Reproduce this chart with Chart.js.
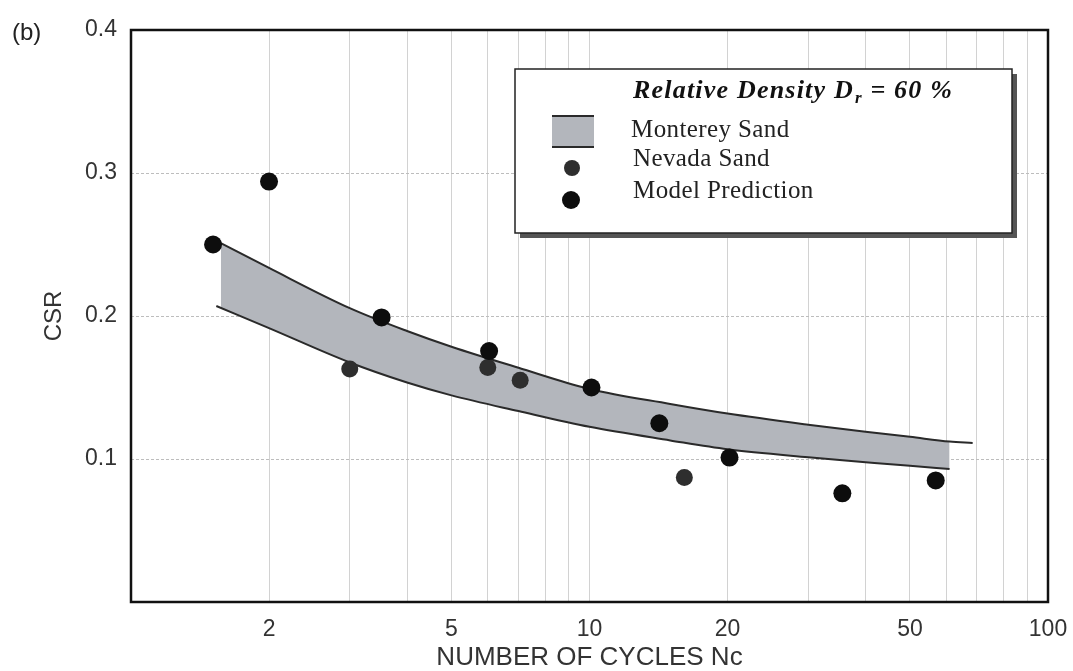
<!DOCTYPE html>
<html><head><meta charset="utf-8">
<script src="https://cdn.jsdelivr.net/npm/chart.js@4.4.1/dist/chart.umd.min.js"></script>
<style>html,body{margin:0;padding:0;background:#fff;}#wrap{position:relative;width:1073px;height:671px;}</style>
</head><body><div id="wrap"><canvas id="c" width="1073" height="671"></canvas></div>
<script>
// ---- data ----
const xTickValues = [1,2,3,4,5,6,7,8,9,10,20,30,40,50,60,70,80,90,100];
const xTickLabels = [2,5,10,20,50,100];
const yTickValues = [0,0.1,0.2,0.3,0.4];

const bandN     = [1.57,2,3,4,5,7,10,15,20,30,40,50,61];
const bandUpper = [0.251,0.2336,0.2055,0.1895,0.1785,0.1638,0.149,0.1385,0.1318,0.124,0.119,0.1155,0.1122];
const bandLower = [0.206,0.1915,0.1675,0.1535,0.1445,0.1335,0.1225,0.113,0.1068,0.1012,0.0978,0.0952,0.093];

const upperLineN   = [1.57,2,3,4,5,7,10,15,20,30,40,50,61,68.5];
const upperLineCSR = [0.251,0.2336,0.2055,0.1895,0.1785,0.1638,0.149,0.1385,0.1318,0.124,0.119,0.1155,0.1122,0.1112];
const lowerLineN   = [1.535,2,3,4,5,7,10,15,20,30,40,50,61];
const lowerLineCSR = [0.207,0.1915,0.1675,0.1535,0.1445,0.1335,0.1225,0.113,0.1068,0.1012,0.0978,0.0952,0.093];

const nevadaN   = [3.0,6.0,7.06,16.1];
const nevadaCSR = [0.163,0.164,0.155,0.087];
const modelN    = [1.51,2.0,3.52,6.04,10.1,14.2,20.2,35.6,56.9];
const modelCSR  = [0.250,0.294,0.199,0.1755,0.150,0.125,0.101,0.076,0.085];

const legendTitle = ['Relative Density D', 'r', ' = 60 %'];
const legendLabels = ['Monterey Sand','Nevada Sand','Model Prediction'];
const panelLabel = '(b)';
const xTitle = 'NUMBER OF CYCLES Nc';
const yTitle = 'CSR';

const pts = (xs, ys) => xs.map((x, i) => ({x, y: ys[i]}));

const BAND_FILL = '#b3b6bc';
const LINE_COL = '#2a2a2a';
const NEVADA_COL = '#2e2e2e';
const MODEL_COL = '#0d0d0d';

const frame = {
  id: 'frame',
  afterDraw(chart) {
    const {ctx, chartArea: a} = chart;
    ctx.save();
    ctx.strokeStyle = '#111';
    ctx.lineWidth = 2.5;
    ctx.strokeRect(a.left, a.top, a.right - a.left, a.bottom - a.top);
    ctx.fillStyle = '#222';
    ctx.font = '24px "Liberation Sans", Arial, sans-serif';
    ctx.textBaseline = 'alphabetic';
    ctx.textAlign = 'left';
    ctx.fillText(panelLabel, 12, 40);

    const L = 515, T = 69, R = 1012, B = 233;
    ctx.fillStyle = '#555';
    ctx.fillRect(L + 5, T + 5, R - L, B - T);
    ctx.fillStyle = '#fff';
    ctx.fillRect(L, T, R - L, B - T);
    ctx.strokeStyle = '#222';
    ctx.lineWidth = 1.5;
    ctx.strokeRect(L, T, R - L, B - T);

    const serif = '"Liberation Serif", "Times New Roman", serif';
    ctx.fillStyle = '#111';
    let x = 633;
    try { ctx.letterSpacing = '1.2px'; } catch (e) {}
    ctx.font = 'italic bold 26px ' + serif;
    ctx.fillText(legendTitle[0], x, 98);
    x += ctx.measureText(legendTitle[0]).width;
    ctx.font = 'italic bold 17px ' + serif;
    ctx.fillText(legendTitle[1], x + 1, 103);
    x += ctx.measureText(legendTitle[1]).width + 1;
    ctx.font = 'italic bold 26px ' + serif;
    ctx.fillText(legendTitle[2], x, 98);
    try { ctx.letterSpacing = '0.4px'; } catch (e) {}

    const ds = chart.data.datasets;
    ctx.font = '25px ' + serif;
    ctx.fillStyle = '#222';
    ctx.fillText(legendLabels[0], 631, 137);
    ctx.fillText(legendLabels[1], 633, 166);
    ctx.fillText(legendLabels[2], 633, 198);
    try { ctx.letterSpacing = '0px'; } catch (e) {}

    ctx.fillStyle = ds[1].backgroundColor;
    ctx.fillRect(552, 116, 42, 31);
    ctx.strokeStyle = LINE_COL;
    ctx.lineWidth = 2;
    ctx.beginPath();
    ctx.moveTo(552, 116); ctx.lineTo(594, 116);
    ctx.moveTo(552, 147); ctx.lineTo(594, 147);
    ctx.stroke();
    ctx.fillStyle = ds[4].backgroundColor;
    ctx.beginPath(); ctx.arc(572, 168, 8, 0, Math.PI * 2); ctx.fill();
    ctx.fillStyle = ds[5].backgroundColor;
    ctx.beginPath(); ctx.arc(571, 200, 9, 0, Math.PI * 2); ctx.fill();
    ctx.restore();
  }
};

new Chart(document.getElementById('c'), {
  type: 'line',
  data: {
    datasets: [
      { label: 'band-lower', data: pts(bandN, bandLower), borderWidth: 0, pointRadius: 0, fill: false,
        cubicInterpolationMode: 'monotone', order: 10, borderColor: 'rgba(0,0,0,0)' },
      { label: 'Monterey Sand', data: pts(bandN, bandUpper), borderWidth: 0, pointRadius: 0, fill: '-1',
        backgroundColor: BAND_FILL, borderColor: 'rgba(0,0,0,0)', cubicInterpolationMode: 'monotone', order: 9 },
      { label: 'upper', data: pts(upperLineN, upperLineCSR), borderColor: LINE_COL, borderWidth: 2, pointRadius: 0,
        fill: false, cubicInterpolationMode: 'monotone', order: 5 },
      { label: 'lower', data: pts(lowerLineN, lowerLineCSR), borderColor: LINE_COL, borderWidth: 2, pointRadius: 0,
        fill: false, cubicInterpolationMode: 'monotone', order: 5 },
      { label: 'Nevada Sand', data: pts(nevadaN, nevadaCSR), showLine: false, pointRadius: 8.5,
        backgroundColor: NEVADA_COL, borderColor: NEVADA_COL, pointBorderWidth: 0, order: 1 },
      { label: 'Model Prediction', data: pts(modelN, modelCSR), showLine: false, pointRadius: 9,
        backgroundColor: MODEL_COL, borderColor: MODEL_COL, pointBorderWidth: 0, order: 0 }
    ]
  },
  options: {
    responsive: false,
    animation: false,
    events: [],
    layout: { padding: { top: 30, right: 25, bottom: 0, left: 0 } },
    plugins: { legend: { display: false }, tooltip: { enabled: false }, title: { display: false } },
    scales: {
      x: {
        type: 'logarithmic', min: 1, max: 100,
        afterBuildTicks: s => { s.ticks = xTickValues.map(v => ({ value: v })); },
        afterFit: s => { s.height = 69; s.paddingRight = 0; s.paddingLeft = 0; },
        ticks: {
          autoSkip: false, maxRotation: 0, padding: 14, color: '#333',
          font: { family: '"Liberation Sans", Arial, sans-serif', size: 23 },
          callback: v => xTickLabels.includes(v) ? String(v) : ''
        },
        grid: { color: '#d2d2d2', lineWidth: 1, drawTicks: false },
        border: { display: false },
        title: { display: true, text: xTitle, color: '#333', padding: 0,
          font: { family: '"Liberation Sans", Arial, sans-serif', size: 26, lineHeight: 1 } }
      },
      y: {
        type: 'linear', min: 0, max: 0.4,
        afterBuildTicks: s => { s.ticks = yTickValues.map(v => ({ value: v })); },
        afterFit: s => { s.width = 131; s.paddingTop = 0; s.paddingBottom = 0; },
        ticks: {
          padding: 14, color: '#333',
          font: { family: '"Liberation Sans", Arial, sans-serif', size: 23 },
          callback: v => v === 0 ? '' : v.toFixed(1)
        },
        grid: { drawTicks: false, lineWidth: 1,
          color: c => (c.tick && (c.tick.value === 0 || c.tick.value === 0.4)) ? 'rgba(0,0,0,0)' : '#bdbdbd' },
        border: { display: false, dash: [3, 2] },
        title: { display: true, text: yTitle, color: '#333', padding: { top: 42, bottom: 0 },
          font: { family: '"Liberation Sans", Arial, sans-serif', size: 24, lineHeight: 1 } }
      }
    }
  },
  plugins: [frame]
});
</script></body></html>
